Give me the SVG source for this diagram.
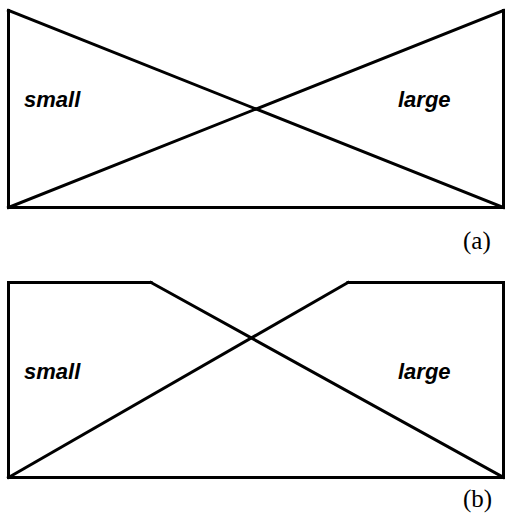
<svg xmlns="http://www.w3.org/2000/svg" width="505" height="522" viewBox="0 0 505 522">
<style>
.ln{fill:none;stroke:#000;stroke-width:3;stroke-linejoin:miter;stroke-linecap:square}
.lbl{font-family:"Liberation Sans",Arial,sans-serif;font-weight:bold;font-style:italic;font-size:22px;fill:#000}
.cap{font-family:"Liberation Serif","Times New Roman",serif;font-size:25px;fill:#000}
</style>
<rect width="505" height="522" fill="#fff"/>
<g id="figure-a">
<path class="ln" d="M8.5,10.5 L8.5,207.5 L503.5,207.5 L503.5,10.5"/>
<path class="ln" d="M8.5,10.5 L503.5,207.5"/>
<path class="ln" d="M8.5,207.5 L503.5,10.5"/>
<text class="lbl" x="24" y="107">small</text>
<text class="lbl" x="398" y="107">large</text>
<text class="cap" x="463" y="249">(a)</text>
</g>
<g id="figure-b">
<path class="ln" d="M151,282.5 L8.5,282.5 L8.5,477.5 L503.5,477.5 L503.5,282.5 L348,282.5"/>
<path class="ln" d="M151,282.5 L503.5,477.5"/>
<path class="ln" d="M8.5,477.5 L348,282.5"/>
<text class="lbl" x="24" y="379">small</text>
<text class="lbl" x="398" y="379">large</text>
<text class="cap" x="463" y="507">(b)</text>
</g>
</svg>
